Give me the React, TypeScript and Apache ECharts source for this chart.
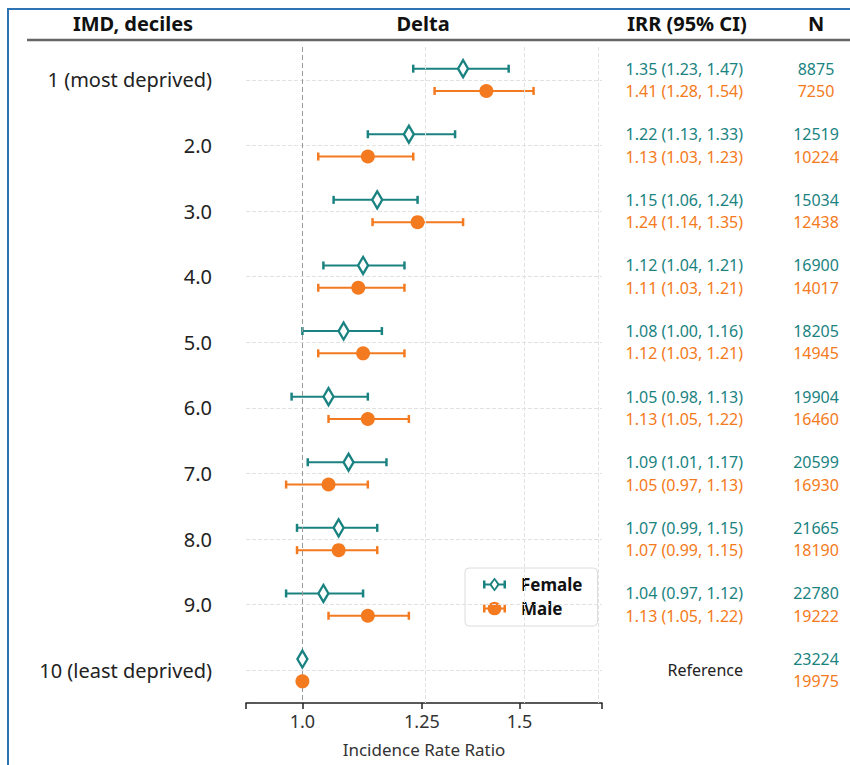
import React, { useEffect, useRef } from "react";
import * as echarts from "echarts";

// ---------- data ----------
const rowLabels = [
  "1 (most deprived)",
  "2.0",
  "3.0",
  "4.0",
  "5.0",
  "6.0",
  "7.0",
  "8.0",
  "9.0",
  "10 (least deprived)",
];
const femaleIRR = [1.35, 1.22, 1.15, 1.12, 1.08, 1.05, 1.09, 1.07, 1.04, 1.0];
const femaleLo = [1.23, 1.13, 1.06, 1.04, 1.0, 0.98, 1.01, 0.99, 0.97, null];
const femaleHi = [1.47, 1.33, 1.24, 1.21, 1.16, 1.13, 1.17, 1.15, 1.12, null];
const maleIRR = [1.41, 1.13, 1.24, 1.11, 1.12, 1.13, 1.05, 1.07, 1.13, 1.0];
const maleLo = [1.28, 1.03, 1.14, 1.03, 1.03, 1.05, 0.97, 0.99, 1.05, null];
const maleHi = [1.54, 1.23, 1.35, 1.21, 1.21, 1.22, 1.13, 1.15, 1.22, null];
const femaleN = [8875, 12519, 15034, 16900, 18205, 19904, 20599, 21665, 22780, 23224];
const maleN = [7250, 10224, 12438, 14017, 14945, 16460, 16930, 18190, 19222, 19975];
const referenceLabel = "Reference";
const xTickValues = [1.0, 1.25, 1.5];
const xTickLabels = ["1.0", "1.25", "1.5"];
const xMin = 0.9;
const xMax = 1.75;
const headers = ["IMD, deciles", "Delta", "IRR (95% CI)", "N"];
const xAxisName = "Incidence Rate Ratio";

// ---------- style ----------
const TEAL = "#1a8381";
const ORANGE = "#f47a20";
const FONT = "Noto Sans";
const OFF = 0.17; // sub-row offset (female above, male below)

const lg = (v: number) => Math.log10(v);
const rows = rowLabels.map((_, i) => i + 1);

const App: React.FC = () => {
  const ref = useRef<HTMLDivElement>(null);

  useEffect(() => {
    if (!ref.current) return;
    const chart = echarts.init(ref.current, undefined, { renderer: "svg" });

    // error bar data
    const fBars: number[][] = [];
    const mBars: number[][] = [];
    rows.forEach((r, i) => {
      if (femaleLo[i] != null && femaleHi[i] != null)
        fBars.push([lg(femaleLo[i] as number), lg(femaleHi[i] as number), r - OFF]);
      if (maleLo[i] != null && maleHi[i] != null)
        mBars.push([lg(maleLo[i] as number), lg(maleHi[i] as number), r + OFF]);
    });
    const fPts = rows.map((r, i) => [lg(femaleIRR[i]), r - OFF]);
    const mPts = rows.map((r, i) => [lg(maleIRR[i]), r + OFF]);

    // right table texts
    const irrPos: number[] = [];
    const irrTxt: string[] = [];
    const nPos: number[] = [];
    const nTxt: string[] = [];
    const fmt = (a: number, b: number | null, c: number | null) =>
      `${a.toFixed(2)} (${(b as number).toFixed(2)}, ${(c as number).toFixed(2)})`;
    rows.forEach((r, i) => {
      if (femaleLo[i] == null) {
        irrPos.push(r);
        irrTxt.push(`{r|${referenceLabel}}`);
      } else {
        irrPos.push(r - OFF);
        irrTxt.push(`{f|${fmt(femaleIRR[i], femaleLo[i], femaleHi[i])}}`);
        irrPos.push(r + OFF);
        irrTxt.push(`{m|${fmt(maleIRR[i], maleLo[i], maleHi[i])}}`);
      }
      nPos.push(r - OFF);
      nTxt.push(`{f|${femaleN[i]}}`);
      nPos.push(r + OFF);
      nTxt.push(`{m|${maleN[i]}}`);
    });
    const lookup = (pos: number[], txt: string[]) => (v: number) => {
      const k = pos.findIndex((p) => Math.abs(p - v) < 1e-6);
      return k >= 0 ? txt[k] : "";
    };
    const richTbl = {
      f: { color: TEAL, fontSize: 16, fontFamily: FONT, lineHeight: 18 },
      m: { color: ORANGE, fontSize: 16, fontFamily: FONT, lineHeight: 18 },
      r: { color: "#222", fontSize: 16, fontFamily: FONT, lineHeight: 18 },
    };

    const barRender = (color: string) => (params: any, api: any) => {
      const y = api.value(2);
      const a = api.coord([api.value(0), y]);
      const b = api.coord([api.value(1), y]);
      const cap = 4;
      return {
        type: "group",
        children: [
          { type: "line", shape: { x1: a[0], y1: a[1], x2: b[0], y2: b[1] }, style: { stroke: color, lineWidth: 2 } },
          { type: "line", shape: { x1: a[0], y1: a[1] - cap, x2: a[0], y2: a[1] + cap }, style: { stroke: color, lineWidth: 2.5 } },
          { type: "line", shape: { x1: b[0], y1: b[1] - cap, x2: b[0], y2: b[1] + cap }, style: { stroke: color, lineWidth: 2.5 } },
        ],
      };
    };

    const femaleIcon =
      "path://M0 3L2.5 3L2.5 6L6.9 6L11.5 0L16.1 6L20.5 6L20.5 3L23 3L23 11L20.5 11L20.5 8L16.1 8L11.5 14L6.9 8L2.5 8L2.5 11L0 11Z" +
      "M11.5 2.8L8.7 7L11.5 11.2L14.3 7Z";
    const maleIcon =
      "path://M0 3L2.5 3L2.5 6L4.6 6A7 7 0 0 1 18.4 6L20.5 6L20.5 3L23 3L23 11L20.5 11L20.5 8L18.4 8A7 7 0 0 1 4.6 8L2.5 8L2.5 11L0 11Z";

    const gridLineStyle = { type: "dashed" as const, color: "#e2e2e2", width: 1 };

    const headerText = (text: string, x: number) => ({
      type: "text",
      x,
      y: 23,
      style: {
        text,
        fill: "#111",
        font: `bold 20px '${FONT}'`,
        textAlign: "center",
        textVerticalAlign: "middle",
      },
    });

    chart.setOption({
      animation: false,
      backgroundColor: "#fff",
      textStyle: { fontFamily: FONT },
      grid: { left: 246, width: 356, top: 47, height: 656, containLabel: false },
      xAxis: {
        type: "value",
        min: lg(xMin),
        max: lg(xMax),
        axisLine: { show: true, lineStyle: { color: "#222", width: 1.5 } },
        axisTick: {
          show: true,
          length: 6,
          lineStyle: { color: "#222", width: 1.5 },
          customValues: [lg(xMin), ...xTickValues.map(lg), lg(xMax)],
        },
        axisLabel: {
          customValues: xTickValues.map(lg),
          formatter: (v: number) => {
            const k = xTickValues.findIndex((t) => Math.abs(lg(t) - v) < 1e-6);
            return k >= 0 ? xTickLabels[k] : "";
          },
          fontSize: 18,
          color: "#333",
          margin: 9,
          fontFamily: FONT,
        },
        splitLine: { show: false },
        name: xAxisName,
        nameLocation: "middle",
        nameGap: 38,
        nameTextStyle: { fontSize: 17, color: "#333", fontFamily: FONT },
      },
      yAxis: [
        {
          type: "value",
          min: 0.5,
          max: 10.5,
          inverse: true,
          axisLine: { show: false },
          axisTick: { show: false },
          splitLine: { show: false },
          axisLabel: {
            customValues: rows,
            formatter: (v: number) => rowLabels[Math.round(v) - 1] ?? "",
            align: "right",
            margin: 34,
            fontSize: 20,
            color: "#222",
            fontFamily: FONT,
          },
        },
        {
          type: "value",
          min: 0.5,
          max: 10.5,
          inverse: true,
          position: "right",
          axisLine: { show: false },
          axisTick: { show: false },
          splitLine: { show: false },
          axisLabel: {
            customValues: irrPos,
            formatter: lookup(irrPos, irrTxt),
            align: "right",
            margin: 141,
            rich: richTbl,
          },
        },
        {
          type: "value",
          min: 0.5,
          max: 10.5,
          inverse: true,
          position: "right",
          axisLine: { show: false },
          axisTick: { show: false },
          splitLine: { show: false },
          axisLabel: {
            customValues: nPos,
            formatter: lookup(nPos, nTxt),
            align: "center",
            margin: 214,
            rich: richTbl,
          },
        },
      ],
      legend: {
        left: 465,
        top: 568,
        orient: "vertical",
        padding: [8, 15, 9, 18],
        itemGap: 7,
        itemWidth: 23,
        itemHeight: 14,
        borderColor: "#dcdcdc",
        borderWidth: 1,
        borderRadius: 4,
        backgroundColor: "#fff",
        textStyle: {
          fontSize: 17,
          lineHeight: 17,
          fontWeight: "bold",
          color: "#111",
          fontFamily: FONT,
          padding: [0, 0, 0, 10],
        },
        data: [
          { name: "Female", icon: femaleIcon, itemStyle: { color: TEAL, borderWidth: 0 } },
          { name: "Male", icon: maleIcon, itemStyle: { color: ORANGE, borderWidth: 0 } },
        ],
      },
      graphic: [
        { type: "line", shape: { x1: 8, y1: 8, x2: 8, y2: 765 }, style: { stroke: "#2e74b5", lineWidth: 2 } },
        { type: "line", shape: { x1: 7, y1: 9, x2: 850, y2: 9 }, style: { stroke: "#2e74b5", lineWidth: 2 } },
        { type: "line", shape: { x1: 27, y1: 40, x2: 850, y2: 40 }, style: { stroke: "#666", lineWidth: 2.5 } },
        headerText(headers[0], 133),
        headerText(headers[1], 423),
        headerText(headers[2], 687),
        headerText(headers[3], 816),
      ],
      series: [
        {
          type: "line",
          data: [],
          silent: true,
          markLine: {
            silent: true,
            symbol: "none",
            label: { show: false },
            lineStyle: gridLineStyle,
            data: [
              ...rows.map((r) => ({ yAxis: r })),
              { xAxis: lg(xMin) },
              { xAxis: lg(1.25) },
              { xAxis: lg(1.5) },
              { xAxis: lg(xMax) },
            ],
          },
        },
        {
          type: "line",
          data: [],
          silent: true,
          z: 3,
          markLine: {
            silent: true,
            symbol: "none",
            label: { show: false },
            lineStyle: { type: [5, 3], color: "#999", width: 1 },
            data: [{ xAxis: lg(1.0) }],
          },
        },
        {
          type: "custom",
          name: "FemaleCI",
          renderItem: barRender(TEAL),
          data: fBars,
          encode: { x: [0, 1], y: 2 },
          z: 4,
          silent: true,
        },
        {
          type: "custom",
          name: "MaleCI",
          renderItem: barRender(ORANGE),
          data: mBars,
          encode: { x: [0, 1], y: 2 },
          z: 4,
          silent: true,
        },
        {
          type: "scatter",
          name: "Female",
          data: fPts,
          symbol: "diamond",
          symbolSize: [10, 17],
          itemStyle: { color: "#fff", borderColor: TEAL, borderWidth: 2.5, opacity: 1 },
          z: 6,
        },
        {
          type: "scatter",
          name: "Male",
          data: mPts,
          symbol: "circle",
          symbolSize: 14,
          itemStyle: { color: ORANGE, opacity: 1 },
          z: 6,
        },
      ],
    });

    return () => chart.dispose();
  }, []);

  return (
    <div
      ref={ref}
      style={{ position: "absolute", left: 0, top: 0, width: 850, height: 765 }}
    />
  );
};

export default App;
